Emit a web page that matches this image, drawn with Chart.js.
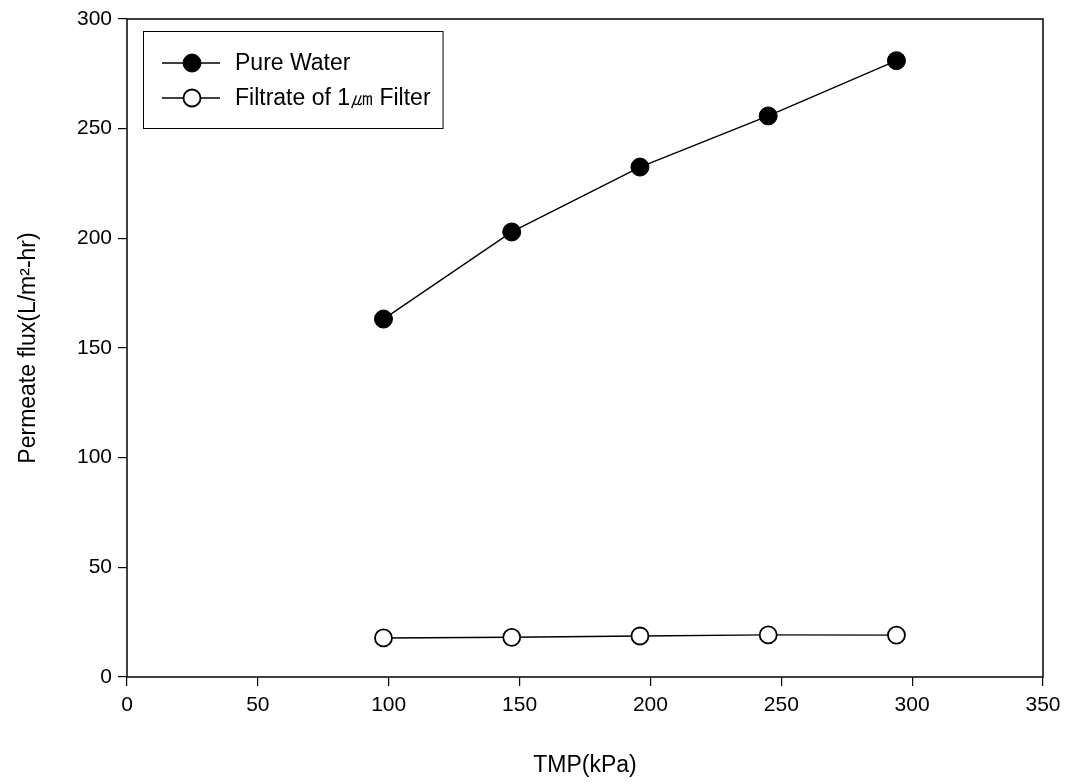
<!DOCTYPE html>
<html>
<head>
<meta charset="utf-8">
<script src="https://cdn.jsdelivr.net/npm/chart.js@4/dist/chart.umd.min.js"></script>
<style>
html,body{margin:0;padding:0;background:#fff;}
#wrap{width:1073px;height:784px;position:relative;}
</style>
</head>
<body>
<div id="wrap"><canvas id="c" width="1073" height="784"></canvas></div>
<script>
const tmp = [98, 147, 196, 245, 294];
const pureWater = [163.2, 202.9, 232.5, 255.8, 281.0];
const filtrate = [17.8, 18.1, 18.7, 19.2, 19.1];
const xTicks = [0, 50, 100, 150, 200, 250, 300, 350];
const yTicks = [0, 50, 100, 150, 200, 250, 300];
const seriesLabels = ['Pure Water', 'Filtrate of 1\u339B Filter'];
const xTitle = 'TMP(kPa)';
const yTitle = 'Permeate flux(L/m\u00B2-hr)';

const FONT = '"Liberation Sans", Arial, sans-serif';

const framePlugin = {
  id: 'frame',
  afterDatasetsDraw(chart) {
    const {ctx, chartArea: a} = chart;
    ctx.save();
    ctx.strokeStyle = '#000';
    ctx.lineWidth = 1.5;
    ctx.strokeRect(a.left, a.top, a.right - a.left, a.bottom - a.top);
    ctx.restore();
  }
};

const legendPlugin = {
  id: 'boxLegend',
  afterDraw(chart) {
    const {ctx} = chart;
    ctx.save();
    ctx.font = '23px ' + FONT;
    let maxW = 0;
    chart.data.datasets.forEach(ds => { maxW = Math.max(maxW, ctx.measureText(ds.label).width); });
    const x0 = 143, y0 = 31, h = 97;
    const textX = 235;
    const w = textX + maxW + 12 - x0;
    ctx.fillStyle = '#fff';
    ctx.fillRect(x0, y0, w, h);
    ctx.strokeStyle = '#000';
    ctx.lineWidth = 1;
    ctx.strokeRect(x0 + 0.5, y0 + 0.5, w, h);
    const rows = [63, 98];
    chart.data.datasets.forEach((ds, i) => {
      const y = rows[i];
      ctx.strokeStyle = '#000';
      ctx.lineWidth = 1.3;
      ctx.beginPath();
      ctx.moveTo(162, y);
      ctx.lineTo(220, y);
      ctx.stroke();
      ctx.beginPath();
      ctx.arc(192, y, ds.pointRadius, 0, Math.PI * 2);
      ctx.fillStyle = ds.pointBackgroundColor;
      ctx.fill();
      ctx.lineWidth = ds.pointBorderWidth;
      ctx.stroke();
      ctx.fillStyle = '#000';
      ctx.textBaseline = 'middle';
      ctx.textAlign = 'left';
      ctx.fillText(ds.label, textX, y + 1);
    });
    ctx.restore();
  }
};

new Chart(document.getElementById('c'), {
  type: 'scatter',
  data: {
    datasets: [
      {
        label: seriesLabels[0],
        data: tmp.map((x, i) => ({x: x, y: pureWater[i]})),
        showLine: true,
        borderColor: '#000',
        borderWidth: 1.4,
        pointRadius: 9,
        pointHoverRadius: 9,
        pointBackgroundColor: '#000',
        pointBorderColor: '#000',
        pointBorderWidth: 1
      },
      {
        label: seriesLabels[1],
        data: tmp.map((x, i) => ({x: x, y: filtrate[i]})),
        showLine: true,
        borderColor: '#000',
        borderWidth: 1.4,
        pointRadius: 8.5,
        pointHoverRadius: 8.5,
        pointBackgroundColor: '#fff',
        pointBorderColor: '#000',
        pointBorderWidth: 1.8
      }
    ]
  },
  options: {
    responsive: false,
    animation: false,
    layout: {padding: {top: 19, right: 30, left: 0, bottom: 0}},
    plugins: {legend: {display: false}, tooltip: {enabled: false}},
    scales: {
      x: {
        type: 'linear',
        min: 0, max: 350,
        afterBuildTicks(axis) { axis.ticks = xTicks.map(v => ({value: v})); },
        afterFit(axis) { axis.height = 107; },
        grid: {drawOnChartArea: false, drawTicks: true, tickLength: 9, color: '#000', lineWidth: 1.2},
        border: {display: false},
        ticks: {color: '#000', font: {family: FONT, size: 21}, padding: 7, maxRotation: 0},
        title: {display: true, text: xTitle, color: '#000', font: {family: FONT, size: 23}, padding: {top: 0, bottom: 5}}
      },
      y: {
        type: 'linear',
        min: 0, max: 300,
        afterBuildTicks(axis) { axis.ticks = yTicks.map(v => ({value: v})); },
        afterFit(axis) { axis.width = 127; },
        grid: {drawOnChartArea: false, drawTicks: true, tickLength: 9, color: '#000', lineWidth: 1.2},
        border: {display: false},
        ticks: {color: '#000', font: {family: FONT, size: 21}, padding: 6},
        title: {display: true, text: yTitle, color: '#000', font: {family: FONT, size: 23}, padding: {top: 15, bottom: 0}}
      }
    }
  },
  plugins: [framePlugin, legendPlugin]
});
</script>
</body>
</html>
